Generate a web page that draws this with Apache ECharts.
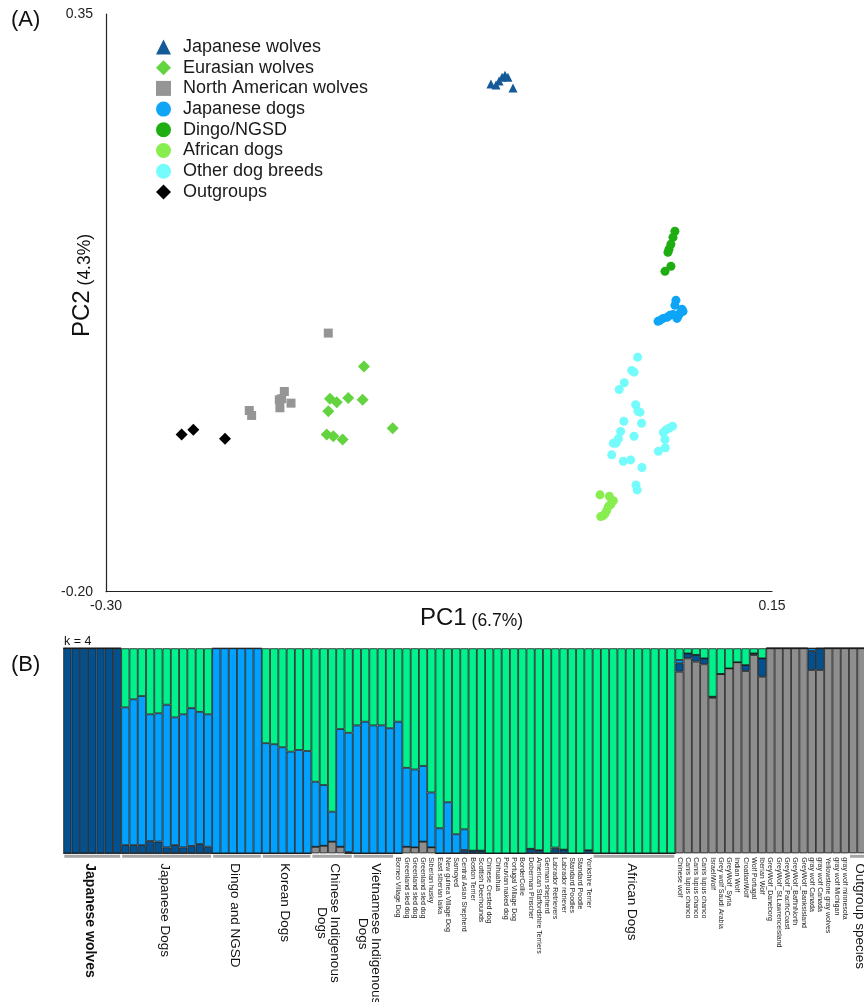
<!DOCTYPE html>
<html><head><meta charset="utf-8">
<script src="https://cdn.jsdelivr.net/npm/echarts@6/dist/echarts.min.js"></script>
<style>html,body{margin:0;padding:0;background:#fff;overflow:hidden}#c{width:890px;height:1002px}</style>
</head><body><div id="c"></div>
<script>
const FONT = '"Liberation Sans", Arial, sans-serif';

// ---------- Panel A : PCA [PC1, PC2] ----------
const japaneseWolves = [[-0.0399,0.2833],[-0.0365,0.2823],[-0.0344,0.2861],[-0.0324,0.2899],[-0.0304,0.2918],[-0.0284,0.2899],[-0.0250,0.2795]];
const eurasianWolves = [[-0.1257,0.0145],[-0.1487,-0.0163],[-0.1441,-0.0196],[-0.1363,-0.0157],[-0.1266,-0.0173],[-0.1498,-0.0281],[-0.1509,-0.0503],[-0.1464,-0.0520],[-0.1401,-0.0551],[-0.1063,-0.0443]];
const northAmericanWolves = [[-0.1498,0.0462],[-0.1795,-0.0094],[-0.1813,-0.0163],[-0.1829,-0.0173],[-0.1750,-0.0205],[-0.1825,-0.0249],[-0.2032,-0.0275],[-0.2016,-0.0322]];
const japaneseDogs = [[0.0851,0.0774],[0.0844,0.0726],[0.0892,0.0688],[0.0899,0.0669],[0.0878,0.0650],[0.0865,0.0621],[0.0858,0.0602],[0.0831,0.0640],[0.0810,0.0631],[0.0791,0.0612],[0.0764,0.0602],[0.0743,0.0583],[0.0730,0.0574]];
const dingoNGSD = [[0.0844,0.1432],[0.0831,0.1374],[0.0817,0.1308],[0.0804,0.1260],[0.0797,0.1231],[0.0817,0.1098],[0.0777,0.1050]];
const africanDogs = [[0.0338,-0.1078],[0.0401,-0.1092],[0.0428,-0.1133],[0.0410,-0.1171],[0.0394,-0.1190],[0.0383,-0.1228],[0.0360,-0.1276],[0.0343,-0.1285],[0.0371,-0.1259],[0.0417,-0.1149]];
const otherDogBreeds = [[0.0592,0.0233],[0.0552,0.0107],[0.0568,0.0090],[0.0502,-0.0011],[0.0468,-0.0075],[0.0579,-0.0220],[0.0608,-0.0291],[0.0594,-0.0281],[0.0619,-0.0396],[0.0499,-0.0377],[0.0477,-0.0475],[0.0462,-0.0544],[0.0428,-0.0586],[0.0446,-0.0586],[0.0568,-0.0520],[0.0417,-0.0697],[0.0495,-0.0758],[0.0545,-0.0745],[0.0621,-0.0818],[0.0581,-0.0983],[0.0589,-0.1031],[0.0828,-0.0424],[0.0806,-0.0443],[0.0784,-0.0459],[0.0766,-0.0484],[0.0777,-0.0551],[0.0732,-0.0663],[0.0779,-0.0630]];
const outgroups = [[-0.2489,-0.0503],[-0.2410,-0.0459],[-0.2196,-0.0544]];

const pcaGroups = [
  {name:'Japanese wolves', data:japaneseWolves, symbol:'triangle', size:9, color:'#155A98'},
  {name:'Eurasian wolves', data:eurasianWolves, symbol:'diamond', size:12, color:'#63D33F'},
  {name:'North American wolves', data:northAmericanWolves, symbol:'rect', size:9, color:'#959595'},
  {name:'Japanese dogs', data:japaneseDogs, symbol:'circle', size:9, color:'#0EA5F7'},
  {name:'Dingo/NGSD', data:dingoNGSD, symbol:'circle', size:9, color:'#1FAE12'},
  {name:'African dogs', data:africanDogs, symbol:'circle', size:9, color:'#88EE50'},
  {name:'Other dog breeds', data:otherDogBreeds, symbol:'circle', size:9, color:'#74FBFB'},
  {name:'Outgroups', data:outgroups, symbol:'diamond', size:12, color:'#000000'}
];
const pc1Ticks = [-0.30, 0.15];
const pc2Ticks = [-0.20, 0.35];

// ---------- Panel B : ADMIXTURE k = 4 ----------
const sampleLabels = [
 '','','','','','','','','','','','','','','','','','','','','','','','','','','','','','','','','','','','','','','','',
 'Borneo Village Dog','Greenland sled dog','Greenland sled dog','Greenland sled dog','Siberian husky','East siberian laika',
 'New guinea Village Dog','Samoyed','Central Asian Shepherd','Boston Terrier','Scottish Deerhounds','Chinese Crested dog',
 'Chihuahua','Peruvian naked dog','Portugal Village Dog','BorderCollie','Doberman Pinscher','American Staffordshire Terriers',
 'German shepherd','Labrador Retrievers','Labrador retriever','Standard Poodles','Standard Poodle','Yorkshire Terrier',
 '','','','','','','','','','',
 'Chinese wolf','Canis lupus chanco','Canis lupus chanco','Canis lupus chanco','IsraeliWolf','Grey wolf Saudi Arabia',
 'GreyWolf_Syria','Indian Wolf','CroatianWolf','Wolf Portugal','Iberian Wolf','GreyWolf_Daneborg','GreyWolf_St.Lawrenceisland',
 'GreyWolf_PacificCoast','GreyWolf_BaffinNorth','GreyWolf_Banksisland','gray wolf Canada','gray wolf Canada',
 'Yellowstone gray wolves','gray wolf Michigan','gray wolf minnesota',
 '','',''
];
const groupLabels = [
  {name:'Japanese wolves', start:0, end:6, bold:true},
  {name:'Japanese Dogs', start:7, end:17},
  {name:'Dingo and NGSD', start:18, end:23},
  {name:'Korean Dogs', start:24, end:29},
  {name:'Chinese Indigenous\nDogs', start:30, end:34},
  {name:'Vietnamese Indigenous\nDogs', start:35, end:39},
  {name:'African Dogs', start:64, end:73},
  {name:'Outgroup species', start:95, end:97}
];
const compGrey = [
 0,0,0,0,0,0,0,
 0,0,0,0,0,0,0,0,0,0,0,
 0,0,0,0,0,0,
 0,0,0,0,0,0,
 0.032,0.037,0.057,0.032,0,
 0,0,0,0,0,
 0,
 0.032,0.029,0.057,0.029,
 0,0,0,0,0,0,0,0,0,0,0,0,0,0,0,0,0,0,0,
 0,0,0,0,0,0,0,0,0,0,
 0.886,0.951,0.935,0.922,0.759,0.875,0.902,0.932,0.889,0.967,0.861,
 1,1,1,1,1,
 0.894,0.894,
 1,1,1,
 1,1,1
];
const compNavy = [
 1,1,1,1,1,1,1,
 0.040,0.040,0.040,0.060,0.057,0.029,0.040,0.029,0.036,0.045,0.032,
 0,0,0,0,0,0,
 0,0,0,0,0,0,
 0,0,0,0,0.006,
 0,0,0,0,0,
 0,
 0,0,0,0,
 0,0,0,0.016,0.013,0.013,0,0,0,0,0,0.022,0.015,0,0.020,0.018,0,0,0.015,
 0,0,0,0,0,0,0,0,0,0,
 0.041,0.024,0.033,0.029,0.005,0,0,0,0.029,0.008,0.090,
 0,0,0,0,0,
 0.093,0.106,
 0,0,0,
 0,0,0
];
const compBlue = [
 0,0,0,0,0,0,0,
 0.672,0.711,0.727,0.618,0.626,0.696,0.623,0.649,0.672,0.645,0.646,
 1,1,1,1,1,1,
 0.537,0.532,0.517,0.496,0.504,0.499,
 0.317,0.296,0.146,0.574,0.582,
 0.624,0.642,0.624,0.624,0.610,
 0.642,
 0.385,0.380,0.369,0.268,
 0.122,0.249,0.093,0.101,0,0,0,0,0,0,0,0,0,0,0.008,0,0,0,0,
 0,0,0,0,0,0,0,0,0,0,
 0.016,0,0,0,0,0,0,0,0,0,0,
 0,0,0,0,0,
 0.013,0,
 0,0,0,
 0,0,0
];
const compGreen = [
 0,0,0,0,0,0,0,
 0.288,0.249,0.233,0.322,0.317,0.275,0.337,0.322,0.292,0.310,0.322,
 0,0,0,0,0,0,
 0.463,0.468,0.483,0.504,0.496,0.501,
 0.651,0.667,0.797,0.394,0.412,
 0.376,0.358,0.376,0.376,0.390,
 0.358,
 0.583,0.591,0.574,0.703,
 0.878,0.751,0.907,0.883,0.987,0.987,1,1,1,1,1,0.978,0.985,1,0.972,0.982,1,1,0.985,
 1,1,1,1,1,1,1,1,1,1,
 0.057,0.025,0.032,0.049,0.236,0.125,0.098,0.068,0.082,0.025,0.049,
 0,0,0,0,0,
 0,0,
 0,0,0,
 0,0,0
];
const components = [
  {name:'grey', data:compGrey, color:'#8E8E8E'},
  {name:'navy', data:compNavy, color:'#02508D'},
  {name:'blue', data:compBlue, color:'#00A1FF'},
  {name:'green', data:compGreen, color:'#00F28D'}
];

// ---------- build ----------
const chart = echarts.init(document.getElementById('c'), null, {renderer:'canvas'});
const mctx = document.createElement('canvas').getContext('2d');
function measure(t, font){ mctx.font = font; return mctx.measureText(t).width; }
const near = (v, arr) => arr.some(a => Math.abs(v - a) < 1e-6);

const series = [];
pcaGroups.forEach(g => series.push({
  type:'scatter', name:g.name, data:g.data, xAxisIndex:0, yAxisIndex:0,
  symbol:g.symbol, symbolSize:g.size, itemStyle:{color:g.color, opacity:1}, z:3
}));
components.forEach(c => series.push({
  type:'bar', name:c.name, data:c.data, xAxisIndex:1, yAxisIndex:1, stack:'k',
  barCategoryGap:'0%', itemStyle:{color:c.color, borderColor:'#1c1c1c', borderWidth:0.8},
  emphasis:{disabled:true}
}));
series.push({
  type:'custom', xAxisIndex:1, yAxisIndex:1, encode:{x:[0,1]}, silent:true,
  data: groupLabels.map(g => [g.start, g.end]),
  renderItem: function(params, api){
    const g = groupLabels[params.dataIndex];
    const p0 = api.coord([api.value(0), 0]);
    const p1 = api.coord([api.value(1), 0]);
    const bw = api.size([1, 0])[0];
    const x0 = p0[0] - bw/2 + 1, x1 = p1[0] + bw/2 - 1;
    const yb = p0[1];
    const fw = g.bold ? 'bold' : 'normal';
    const fs = g.bold ? 14 : 13.5;
    const lines = g.name.split('\n');
    const w = Math.max.apply(null, lines.map(l => measure(l, fw + ' ' + fs + 'px ' + FONT)));
    return {type:'group', children:[
      {type:'rect', shape:{x:x0, y:yb+1.5, width:x1-x0, height:3}, style:{fill:'#a6a6a6'}},
      {type:'text', x:(x0+x1)/2 - (lines.length>1 ? 4 : 2), y:yb+10+w/2, rotation:-Math.PI/2,
        style:{text:g.name, fontSize:fs, fontWeight:fw, fontFamily:FONT, fill:'#111',
          align:'center', verticalAlign:'middle', lineHeight:13}}
    ]};
  }
});

chart.setOption({
  animation:false,
  backgroundColor:'#fff',
  legend:{
    data: pcaGroups.map(g => g.name), orient:'vertical', left:151, top:33, padding:5,
    itemWidth:15, itemHeight:15, itemGap:2.7,
    formatter: name => '{p|}' + name,
    textStyle:{fontSize:18, fontFamily:FONT, color:'#1a1a1a', lineHeight:18,
      rich:{p:{width:7, fontSize:18, lineHeight:18}}},
    selectedMode:false
  },
  grid:[
    {left:106, top:14, width:666, height:577.7},
    {left:63.3, top:648.3, width:810.5, height:205}
  ],
  xAxis:[
    {type:'value', gridIndex:0, min:-0.30, max:0.15, interval:0.05,
      axisLine:{show:true, onZero:false, lineStyle:{color:'#222', width:1.2}}, axisTick:{show:false}, splitLine:{show:false},
      axisLabel:{margin:7, fontSize:14, fontFamily:FONT, color:'#222',
        formatter: v => near(v, pc1Ticks) ? v.toFixed(2) : ''}},
    {type:'category', gridIndex:1, data: sampleLabels.map((s, i) => String(i)),
      axisLine:{show:false}, axisTick:{show:false},
      axisLabel:{interval:0, rotate:-90, margin:4, fontSize:7, fontFamily:FONT, color:'#222',
        formatter: (v, i) => sampleLabels[i]}}
  ],
  yAxis:[
    {type:'value', gridIndex:0, min:-0.20, max:0.35, interval:0.05,
      axisLine:{show:true, onZero:false, lineStyle:{color:'#222', width:1.2}}, axisTick:{show:false}, splitLine:{show:false},
      axisLabel:{margin:13, fontSize:14, fontFamily:FONT, color:'#222',
        formatter: v => near(v, pc2Ticks) ? v.toFixed(2) : ''}},
    {type:'value', gridIndex:1, min:0, max:1, show:false}
  ],
  graphic:[
    {type:'text', left:11, top:9, style:{text:'(A)', fontSize:22, fontFamily:FONT, fill:'#111'}},
    {type:'text', left:11, top:654, style:{text:'(B)', fontSize:22, fontFamily:FONT, fill:'#111'}},
    {type:'text', left:64, top:635, style:{text:'k = 4', fontSize:12.5, fontFamily:FONT, fill:'#111'}},
    {type:'text', x:420, y:630, style:{text:'{a|PC1}{b| (6.7%)}', align:'left', verticalAlign:'bottom',
      rich:{a:{fontSize:24, fontFamily:FONT, fill:'#111', verticalAlign:'bottom'}, b:{fontSize:17.5, fontFamily:FONT, fill:'#111', verticalAlign:'bottom'}}}},
    {type:'text', x:94, y:337, rotation:Math.PI/2, style:{text:'{a|PC2}{b| (4.3%)}', align:'left', verticalAlign:'bottom',
      rich:{a:{fontSize:24, fontFamily:FONT, fill:'#111', verticalAlign:'bottom'}, b:{fontSize:17.5, fontFamily:FONT, fill:'#111', verticalAlign:'bottom'}}}}
  ],
  series: series
});
</script></body></html>
